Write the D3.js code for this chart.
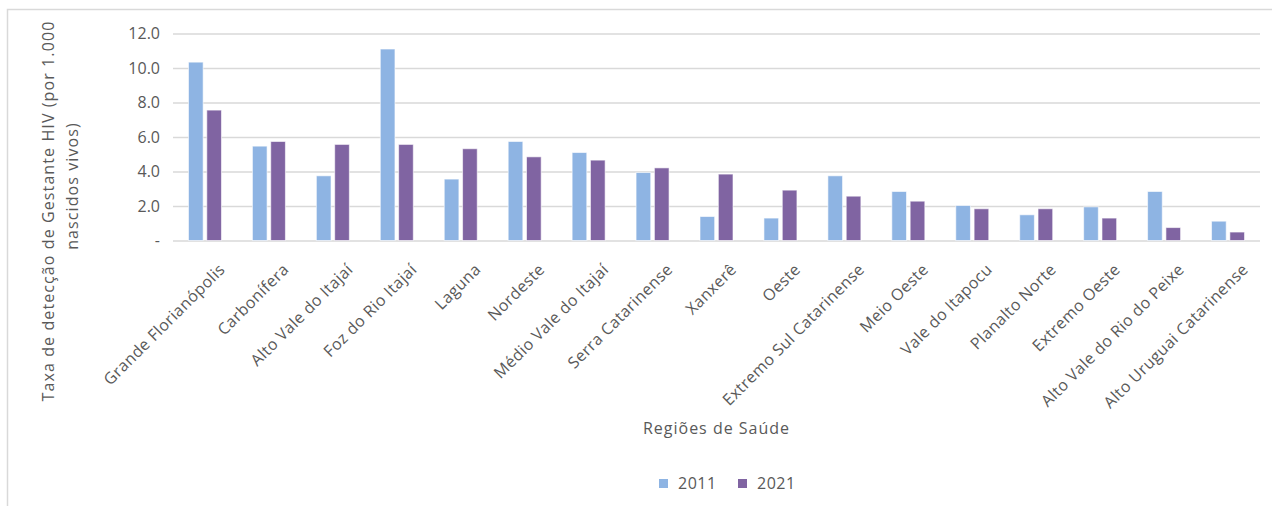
<!DOCTYPE html>
<html>
<head>
<meta charset="utf-8">
<script src="https://cdn.jsdelivr.net/npm/d3@7"></script>
<style>
    body { margin: 0; background: #fff; }
    svg text { font-family: "Open Sans", sans-serif; fill: #595959; }
</style>
</head>
<body>
<svg id="chart"></svg>
<script>
// Regiões de Saúde (categories)
const regions = [
    "Grande Florianópolis", "Carbonífera", "Alto Vale do Itajaí", "Foz do Rio Itajaí",
    "Laguna", "Nordeste", "Médio Vale do Itajaí", "Serra Catarinense", "Xanxerê",
    "Oeste", "Extremo Sul Catarinense", "Meio Oeste", "Vale do Itapocu",
    "Planalto Norte", "Extremo Oeste", "Alto Vale do Rio do Peixe", "Alto Uruguai Catarinense"
];

const series = ["2011", "2021"];

// values
const values2011 = [10.34, 5.47, 3.75, 11.1, 3.56, 5.74, 5.1, 3.94, 1.39, 1.3, 3.75, 2.84, 2.03, 1.49, 1.95, 2.84, 1.12];
const values2021 = [7.56, 5.74, 5.57, 5.57, 5.32, 4.85, 4.66, 4.21, 3.85, 2.92, 2.57, 2.28, 1.84, 1.84, 1.3, 0.75, 0.49];

const yTicks = [0, 2, 4, 6, 8, 10, 12];
const colors = { "2011": "#8eb4e3", "2021": "#8064a2" };

const width = 1272, height = 506;
const margin = { top: 33.5, right: 12, bottom: 265.5, left: 173 };

const svg = d3.select('#chart')
    .attr('width', width)
    .attr('height', height);

// chart frame (only top and left edges fall inside the picture)
svg.append('path')
    .attr('d', `M7.5,${height} V9.5 H${width}`)
    .attr('fill', 'none')
    .attr('stroke', '#d9d9d9')
    .attr('stroke-width', 1.5);

const data = regions.map((r, i) => ({ region: r, "2011": values2011[i], "2021": values2021[i] }));

const xScale = d3.scaleBand()
    .domain(regions)
    .range([margin.left, width - margin.right]);

const bw = xScale.bandwidth();
const xInner = d3.scaleBand()
    .domain(series)
    .range([bw * 0.242, bw * 0.758])
    .paddingInner(0.2);

const yScale = d3.scaleLinear()
    .domain([0, 12])
    .range([height - margin.bottom, margin.top]);

// gridlines + y labels
const yAxis = d3.axisLeft(yScale)
    .tickValues(yTicks)
    .tickSize(-(width - margin.right - margin.left))
    .tickPadding(13)
    .tickFormat(d => d === 0 ? '-' : d.toFixed(1));

const yAxisGroup = svg.append('g')
    .attr('transform', `translate(${margin.left},0)`)
    .call(yAxis);

yAxisGroup.select('.domain').remove();
yAxisGroup.selectAll('line')
    .attr('stroke', '#d9d9d9')
    .attr('stroke-width', 1.5);
yAxisGroup.selectAll('text')
    .attr('font-size', 16)
    .style('fill', '#595959');

// bars
const groups = svg.append('g')
    .selectAll('g')
    .data(data)
    .join('g')
    .attr('transform', d => `translate(${xScale(d.region)},0)`);

groups.selectAll('rect')
    .data(d => series.map(s => ({ key: s, value: d[s] })))
    .join('rect')
    .attr('x', d => xInner(d.key))
    .attr('width', xInner.bandwidth())
    .attr('y', d => yScale(d.value))
    .attr('height', d => yScale(0) - yScale(d.value))
    .attr('fill', d => colors[d.key])
    .attr('stroke', '#fff')
    .attr('stroke-opacity', 0.6)
    .attr('stroke-width', 1);

// rotated category labels (excel spaces them out a bit)
svg.append('g')
    .selectAll('text')
    .data(regions)
    .join('text')
    .attr('transform', d => `translate(${xScale(d) + bw / 2 + 21},${height - margin.bottom + 30}) rotate(-45)`)
    .attr('text-anchor', 'end')
    .attr('font-size', 16)
    .attr('letter-spacing', 0.4)
    .text(d => d);

// axis titles
svg.append('text')
    .attr('x', (margin.left + width - margin.right) / 2)
    .attr('y', 434)
    .attr('text-anchor', 'middle')
    .attr('font-size', 16)
    .attr('letter-spacing', 1)
    .text('Regiões de Saúde');

svg.append('text')
    .attr('transform', 'translate(54,211) rotate(-90)')
    .attr('text-anchor', 'middle')
    .attr('font-size', 16)
    .attr('letter-spacing', 1.1)
    .text('Taxa de detecção de Gestante HIV (por 1.000');

svg.append('text')
    .attr('transform', 'translate(78,186) rotate(-90)')
    .attr('text-anchor', 'middle')
    .attr('font-size', 16)
    .attr('letter-spacing', 1.1)
    .text('nascidos vivos)');

// legend
const legend = svg.append('g')
    .selectAll('g')
    .data(series)
    .join('g')
    .attr('transform', (d, i) => `translate(${659 + i * 79},479)`);

legend.append('rect')
    .attr('width', 9)
    .attr('height', 9)
    .attr('fill', d => colors[d]);

legend.append('text')
    .attr('x', 19)
    .attr('y', 10)
    .attr('font-size', 16)
    .attr('letter-spacing', 0.5)
    .text(d => d);
</script>
</body>
</html>
